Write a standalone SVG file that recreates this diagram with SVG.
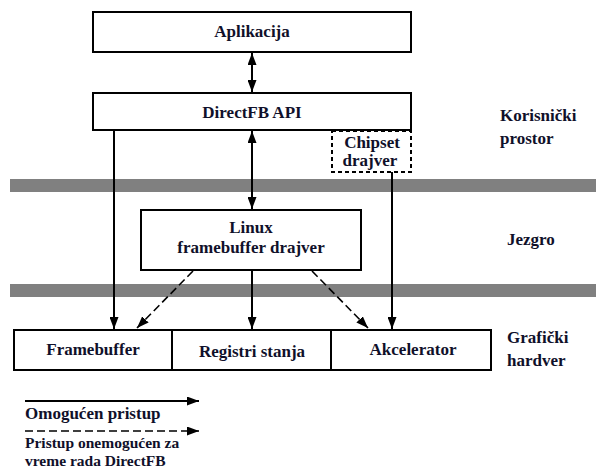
<svg xmlns="http://www.w3.org/2000/svg" width="596" height="470" viewBox="0 0 596 470">
<style>
.box{fill:#fff;stroke:#000;stroke-width:2}
.dbox{fill:#fff;stroke:#000;stroke-width:2;stroke-dasharray:4,3}
.bar{fill:#808080}
text{font-family:'Liberation Serif','Times New Roman','DejaVu Serif',serif;font-weight:bold;font-size:17px;fill:#10102a}
.c{text-anchor:middle}
.s{font-size:15.5px}
.ln{stroke:#000;stroke-width:2;fill:none}
.dl{stroke:#000;stroke-width:1.6;fill:none;stroke-dasharray:8,4}
</style>
<defs>
<marker id="ah" viewBox="0 0 12 9" refX="12" refY="4.5" markerWidth="12" markerHeight="9" markerUnits="userSpaceOnUse" orient="auto-start-reverse">
<path d="M0,0 L12,4.5 L0,9 Z" fill="#000"/>
</marker>
</defs>
<rect class="bar" x="10" y="179" width="586" height="13"/>
<rect class="bar" x="10" y="284" width="586" height="13"/>
<g id="connectors">
<line class="ln" x1="252" y1="53" x2="252" y2="92" marker-start="url(#ah)" marker-end="url(#ah)"/>
<line class="ln" x1="252" y1="131" x2="252" y2="209" marker-start="url(#ah)" marker-end="url(#ah)"/>
<line class="ln" x1="114" y1="131" x2="114" y2="329" marker-end="url(#ah)"/>
<line class="ln" x1="392" y1="172" x2="392" y2="329" marker-end="url(#ah)"/>
<line class="ln" x1="252" y1="271" x2="252" y2="329" marker-end="url(#ah)"/>
<line class="dl" x1="193" y1="271" x2="137" y2="328" marker-end="url(#ah)"/>
<line class="dl" x1="312" y1="271" x2="368" y2="328" marker-end="url(#ah)"/>
</g>
<g id="aplikacija"><rect class="box" x="93" y="12" width="318" height="40"/><text class="c" x="252" y="37">Aplikacija</text></g>
<g id="directfb"><rect class="box" x="93" y="93" width="318" height="37"/><text class="c" x="252" y="118">DirectFB API</text></g>
<g id="chipset"><rect class="dbox" x="332" y="131" width="79" height="41"/><text class="c" x="372" y="148">Chipset</text><text class="c" x="370" y="166">drajver</text></g>
<g id="linux"><rect class="box" x="141" y="210" width="220" height="60"/><text class="c" x="251" y="233">Linux</text><text class="c" x="251" y="253">framebuffer drajver</text></g>
<g id="hardware">
<rect class="box" x="14" y="330" width="477" height="40"/>
<line class="ln" x1="172" y1="330" x2="172" y2="370"/>
<line class="ln" x1="331" y1="330" x2="331" y2="370"/>
<text class="c" x="93" y="355">Framebuffer</text>
<text class="c" x="252" y="357">Registri stanja</text>
<text class="c" x="413" y="355">Akcelerator</text>
</g>
<g id="labels">
<text x="500" y="121">Korisnički</text>
<text x="500" y="144">prostor</text>
<text x="507" y="245">Jezgro</text>
<text x="507" y="343">Grafički</text>
<text x="507" y="366">hardver</text>
</g>
<g id="legend">
<line class="ln" x1="25" y1="401" x2="199" y2="401" marker-end="url(#ah)"/>
<text x="25" y="419">Omogućen pristup</text>
<line class="dl" x1="25" y1="431" x2="199" y2="431" marker-end="url(#ah)"/>
<text class="s" x="25" y="448">Pristup onemogućen za</text>
<text class="s" x="25" y="466">vreme rada DirectFB</text>
</g>
</svg>
